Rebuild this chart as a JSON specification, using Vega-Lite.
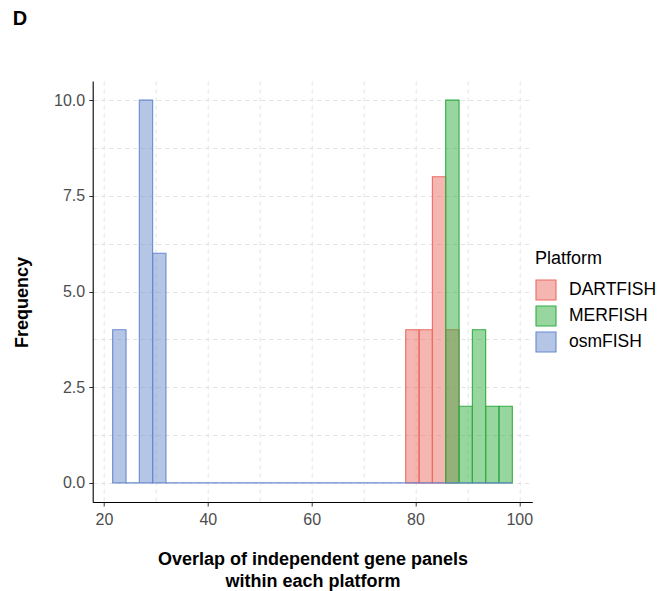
{
  "$schema": "https://vega.github.io/schema/vega-lite/v6.json",
  "width": 439.6,
  "height": 421,
  "autosize": {"type": "none"},
  "padding": {"left": 92.7, "top": 81, "right": 132.7, "bottom": 89},
  "background": "white",
  "title": {
    "text": "D",
    "anchor": "start",
    "frame": "group",
    "dx": -80,
    "offset": 36,
    "baseline": "alphabetic",
    "fontSize": 20,
    "fontWeight": "bold",
    "color": "black"
  },
  "data": {
    "values": [
      {"platform": "DARTFISH", "bin_start": 78.13, "bin_end": 80.70, "frequency": 4},
      {"platform": "DARTFISH", "bin_start": 80.70, "bin_end": 83.26, "frequency": 4},
      {"platform": "DARTFISH", "bin_start": 83.26, "bin_end": 85.83, "frequency": 8},
      {"platform": "DARTFISH", "bin_start": 85.83, "bin_end": 88.40, "frequency": 4},
      {"platform": "MERFISH", "bin_start": 85.83, "bin_end": 88.40, "frequency": 10},
      {"platform": "MERFISH", "bin_start": 88.40, "bin_end": 90.96, "frequency": 2},
      {"platform": "MERFISH", "bin_start": 90.96, "bin_end": 93.53, "frequency": 4},
      {"platform": "MERFISH", "bin_start": 93.53, "bin_end": 96.09, "frequency": 2},
      {"platform": "MERFISH", "bin_start": 96.09, "bin_end": 98.66, "frequency": 2},
      {"platform": "osmFISH", "bin_start": 21.68, "bin_end": 24.25, "frequency": 4},
      {"platform": "osmFISH", "bin_start": 24.25, "bin_end": 26.81, "frequency": 0},
      {"platform": "osmFISH", "bin_start": 26.81, "bin_end": 29.38, "frequency": 10},
      {"platform": "osmFISH", "bin_start": 29.38, "bin_end": 31.94, "frequency": 6},
      {"platform": "osmFISH", "bin_start": 31.94, "bin_end": 34.51, "frequency": 0},
      {"platform": "osmFISH", "bin_start": 34.51, "bin_end": 37.08, "frequency": 0},
      {"platform": "osmFISH", "bin_start": 37.08, "bin_end": 39.64, "frequency": 0},
      {"platform": "osmFISH", "bin_start": 39.64, "bin_end": 42.21, "frequency": 0},
      {"platform": "osmFISH", "bin_start": 42.21, "bin_end": 44.77, "frequency": 0},
      {"platform": "osmFISH", "bin_start": 44.77, "bin_end": 47.34, "frequency": 0},
      {"platform": "osmFISH", "bin_start": 47.34, "bin_end": 49.91, "frequency": 0},
      {"platform": "osmFISH", "bin_start": 49.91, "bin_end": 52.47, "frequency": 0},
      {"platform": "osmFISH", "bin_start": 52.47, "bin_end": 55.04, "frequency": 0},
      {"platform": "osmFISH", "bin_start": 55.04, "bin_end": 57.60, "frequency": 0},
      {"platform": "osmFISH", "bin_start": 57.60, "bin_end": 60.17, "frequency": 0},
      {"platform": "osmFISH", "bin_start": 60.17, "bin_end": 62.74, "frequency": 0},
      {"platform": "osmFISH", "bin_start": 62.74, "bin_end": 65.30, "frequency": 0},
      {"platform": "osmFISH", "bin_start": 65.30, "bin_end": 67.87, "frequency": 0},
      {"platform": "osmFISH", "bin_start": 67.87, "bin_end": 70.43, "frequency": 0},
      {"platform": "osmFISH", "bin_start": 70.43, "bin_end": 73.00, "frequency": 0},
      {"platform": "osmFISH", "bin_start": 73.00, "bin_end": 75.57, "frequency": 0},
      {"platform": "osmFISH", "bin_start": 75.57, "bin_end": 78.13, "frequency": 0},
      {"platform": "osmFISH", "bin_start": 78.13, "bin_end": 80.70, "frequency": 0},
      {"platform": "osmFISH", "bin_start": 80.70, "bin_end": 83.26, "frequency": 0},
      {"platform": "osmFISH", "bin_start": 83.26, "bin_end": 85.83, "frequency": 0},
      {"platform": "osmFISH", "bin_start": 85.83, "bin_end": 88.40, "frequency": 0},
      {"platform": "osmFISH", "bin_start": 88.40, "bin_end": 90.96, "frequency": 0},
      {"platform": "osmFISH", "bin_start": 90.96, "bin_end": 93.53, "frequency": 0},
      {"platform": "osmFISH", "bin_start": 93.53, "bin_end": 96.09, "frequency": 0},
      {"platform": "osmFISH", "bin_start": 96.09, "bin_end": 98.66, "frequency": 0}
    ]
  },
  "mark": {"type": "rect", "fillOpacity": 0.5, "strokeWidth": 1.1},
  "encoding": {
    "x": {
      "field": "bin_start",
      "type": "quantitative",
      "scale": {"domain": [17.83, 102.51], "nice": false, "zero": false},
      "axis": {
        "values": [20, 30, 40, 50, 60, 70, 80, 90, 100],
        "labelExpr": "datum.value % 20 === 0 ? datum.label : ''",
        "format": "d",
        "grid": true,
        "gridColor": "#e2e2e2",
        "gridDash": [4, 4],
        "gridWidth": 1,
        "domainColor": "black",
        "domainWidth": 1.1,
        "tickColor": "#333333",
        "tickSize": 4,
        "tickWidth": 1,
        "tickOpacity": {"condition": {"test": "datum.value % 20 === 0", "value": 1}, "value": 0},
        "labelPadding": 5,
        "labelFontSize": 16,
        "labelColor": "#4d4d4d",
        "labelFlush": false,
        "labelOverlap": false,
        "titleFontSize": 18,
        "titleFontWeight": "bold",
        "titleColor": "black",
        "titlePadding": 23,
        "titleLineHeight": 22
      },
      "title": ["Overlap of independent gene panels", "within each platform"]
    },
    "x2": {"field": "bin_end"},
    "y": {
      "field": "frequency",
      "type": "quantitative",
      "scale": {"domain": [-0.5, 10.5], "nice": false},
      "axis": {
        "values": [0, 1.25, 2.5, 3.75, 5, 6.25, 7.5, 8.75, 10],
        "labelExpr": "datum.value % 2.5 === 0 ? format(datum.value, '.1f') : ''",
        "grid": true,
        "gridColor": "#e2e2e2",
        "gridDash": [4, 4],
        "gridWidth": 1,
        "domainColor": "black",
        "domainWidth": 1.1,
        "tickColor": "#333333",
        "tickSize": 4,
        "tickWidth": 1,
        "tickOpacity": {"condition": {"test": "datum.value % 2.5 === 0", "value": 1}, "value": 0},
        "labelPadding": 4,
        "labelFontSize": 16,
        "labelColor": "#4d4d4d",
        "labelFlush": false,
        "labelOverlap": false,
        "titleFontSize": 18,
        "titleFontWeight": "bold",
        "titleColor": "black",
        "titlePadding": 22,
        "titleY": 221
      },
      "title": "Frequency"
    },
    "y2": {"datum": 0},
    "fill": {
      "field": "platform",
      "type": "nominal",
      "scale": {"domain": ["DARTFISH", "MERFISH", "osmFISH"], "range": ["#eb6b61", "#31ad41", "#698bcd"]},
      "legend": {
        "title": "Platform",
        "orient": "none",
        "legendX": 442.3,
        "legendY": 169,
        "symbolType": "square",
        "symbolSize": 400,
        "symbolStrokeWidth": 1.1,
        "rowPadding": 0,
        "labelOffset": 12,
        "labelFontSize": 17.5,
        "labelColor": "black",
        "titleFontSize": 18,
        "titleFontWeight": "normal",
        "titleColor": "black",
        "titlePadding": 11,
        "encode": {"symbols": {"update": {"fillOpacity": {"value": 0.5}, "strokeOpacity": {"value": 1}}}}
      }
    },
    "stroke": {
      "field": "platform",
      "type": "nominal",
      "scale": {"domain": ["DARTFISH", "MERFISH", "osmFISH"], "range": ["#eb6b61", "#31ad41", "#698bcd"]},
      "legend": {
        "title": "Platform",
        "orient": "none",
        "legendX": 442.3,
        "legendY": 169,
        "symbolType": "square",
        "symbolSize": 400,
        "symbolStrokeWidth": 1.1,
        "rowPadding": 0,
        "labelOffset": 12,
        "labelFontSize": 17.5,
        "labelColor": "black",
        "titleFontSize": 18,
        "titleFontWeight": "normal",
        "titleColor": "black",
        "titlePadding": 11,
        "encode": {"symbols": {"update": {"fillOpacity": {"value": 0.5}, "strokeOpacity": {"value": 1}}}}
      }
    }
  },
  "config": {
    "view": {"stroke": null},
    "font": "Liberation Sans"
  }
}
